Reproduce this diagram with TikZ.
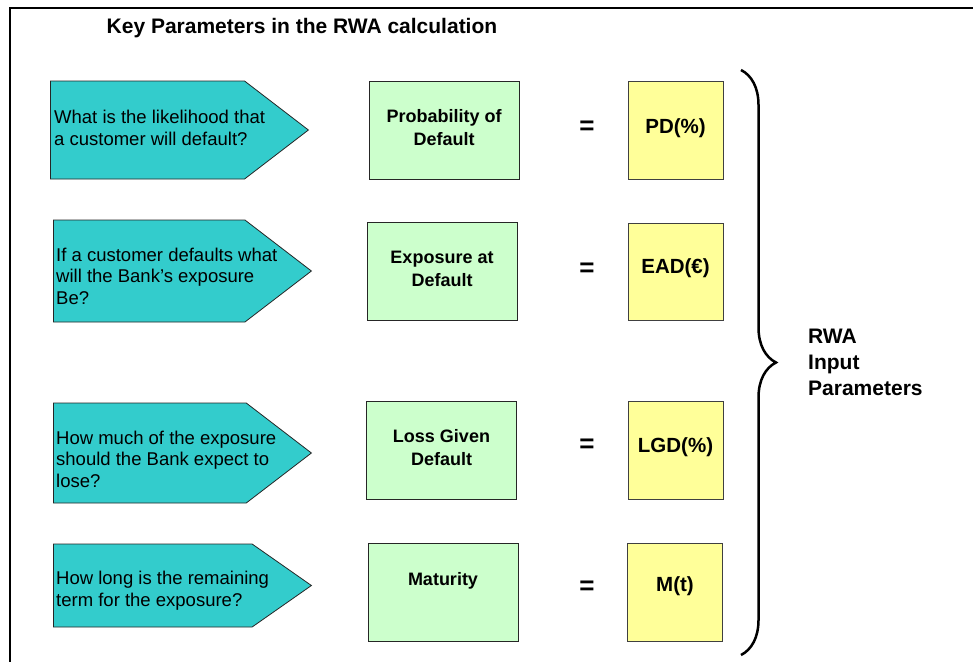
\documentclass[tikz,border=0pt]{standalone}
\usepackage{fontspec}
\setmainfont{Liberation Sans}
\usepackage{tikz}
\usetikzlibrary{shapes.symbols,positioning,decorations.pathreplacing}
\definecolor{rwateal}{RGB}{51,204,204}
\definecolor{rwagreen}{RGB}{204,255,204}
\definecolor{rwayellow}{RGB}{255,255,153}

\begin{document}
\begin{tikzpicture}[x=1pt,y=-1pt,
        question/.style={signal,signal to=east,signal pointer angle=75,draw=black!85,fill=rwateal,line width=0.8pt,minimum width=258pt,inner sep=0pt,anchor=west},
        qtext/.style={anchor=west,inner sep=0pt,align=left,font=\fontsize{18.5}{21.5}\selectfont},
        param/.style={draw=black!85,fill=rwagreen,line width=0.8pt,minimum width=150pt,minimum height=98pt,inner sep=0pt},
        ptext/.style={anchor=north,inner sep=0pt,align=center,font=\fontsize{18}{23}\selectfont\bfseries},
        value/.style={draw=black!75,fill=rwayellow,line width=0.8pt,minimum width=95pt,minimum height=98pt,inner sep=0pt},
        vtext/.style={inner sep=0pt,font=\fontsize{20.5}{24}\selectfont\bfseries},
        equal/.style={inner sep=0pt,font=\fontsize{26}{30}\selectfont\bfseries},
        ]
        \useasboundingbox (0,0) rectangle (973,661);
        \draw [line width=2pt] (10,670) -- (10,8) -- (980,8);
        \node (title) at (302,28) {\fontsize{21}{25}\selectfont\bfseries Key Parameters in the RWA calculation};

        \node [question,minimum height=98pt] (q1) at (50,130) {};
        \node [qtext] (q1text) at ([xshift=4pt,yshift=2pt]q1.west) {What is the likelihood that\\a customer will default?};
        \node [param] (pd) at (444,130) {};
        \node [ptext] (pdtext) at ([yshift=-29pt]pd.north) {Probability of\\Default};
        \node [equal] (eq1) at (587,128) {=};
        \node [value] (pdval) at (675.5,130) {};
        \node [vtext] (pdvaltext) at ([yshift=2pt]pdval.center) {PD(\%)};

        \node [question,minimum height=102pt] (q2) at (53,271) {};
        \node [qtext] (q2text) at ([xshift=3pt,yshift=-5pt]q2.west) {If a customer defaults what\\will the Bank's exposure\\Be?};
        \node [param] (ead) at (442,271.5) {};
        \node [ptext] (eadtext) at ([yshift=-29pt]ead.north) {Exposure at\\Default};
        \node [equal] (eq2) at (587,270) {=};
        \node [value,minimum height=97pt] (eadval) at (675.5,271.5) {};
        \node [vtext] (eadvaltext) at ([yshift=3pt]eadval.center) {EAD(€)};

        \node [question,minimum height=100pt] (q3) at (53,453) {};
        \node [qtext] (q3text) at ([xshift=3pt,yshift=-6pt]q3.west) {How much of the exposure\\should the Bank expect to\\lose?};
        \node [param] (lgd) at (441.5,450) {};
        \node [ptext] (lgdtext) at ([yshift=-29pt]lgd.north) {Loss Given\\Default};
        \node [equal] (eq3) at (587,446) {=};
        \node [value] (lgdval) at (675.5,450) {};
        \node [vtext] (lgdvaltext) at ([yshift=3pt]lgdval.center) {LGD(\%)};

        \node [question,minimum height=83pt,signal pointer angle=70] (q4) at (53,585.5) {};
        \node [qtext] (q4text) at ([xshift=3pt,yshift=-5pt]q4.west) {How long is the remaining\\term for the exposure?};
        \node [param] (mat) at (443,592) {};
        \node [ptext] (mattext) at ([yshift=-30pt]mat.north) {Maturity};
        \node [equal] (eq4) at (587,588) {=};
        \node [value] (matval) at (675,592) {};
        \node [vtext] (matvaltext) at ([yshift=6pt]matval.center) {M(t)};

        \coordinate (bracetop) at (741,70);
        \coordinate (bracebot) at (741,655);
        \draw [decorate,decoration={brace,amplitude=35pt,aspect=0.5},line width=2.5pt] (bracetop) -- (bracebot);
        \node [anchor=west,inner sep=0pt,align=left,font=\fontsize{21}{26}\selectfont\bfseries] (rwa) at (808,362) {RWA\\Input\\Parameters};
      \end{tikzpicture}
\end{document}
